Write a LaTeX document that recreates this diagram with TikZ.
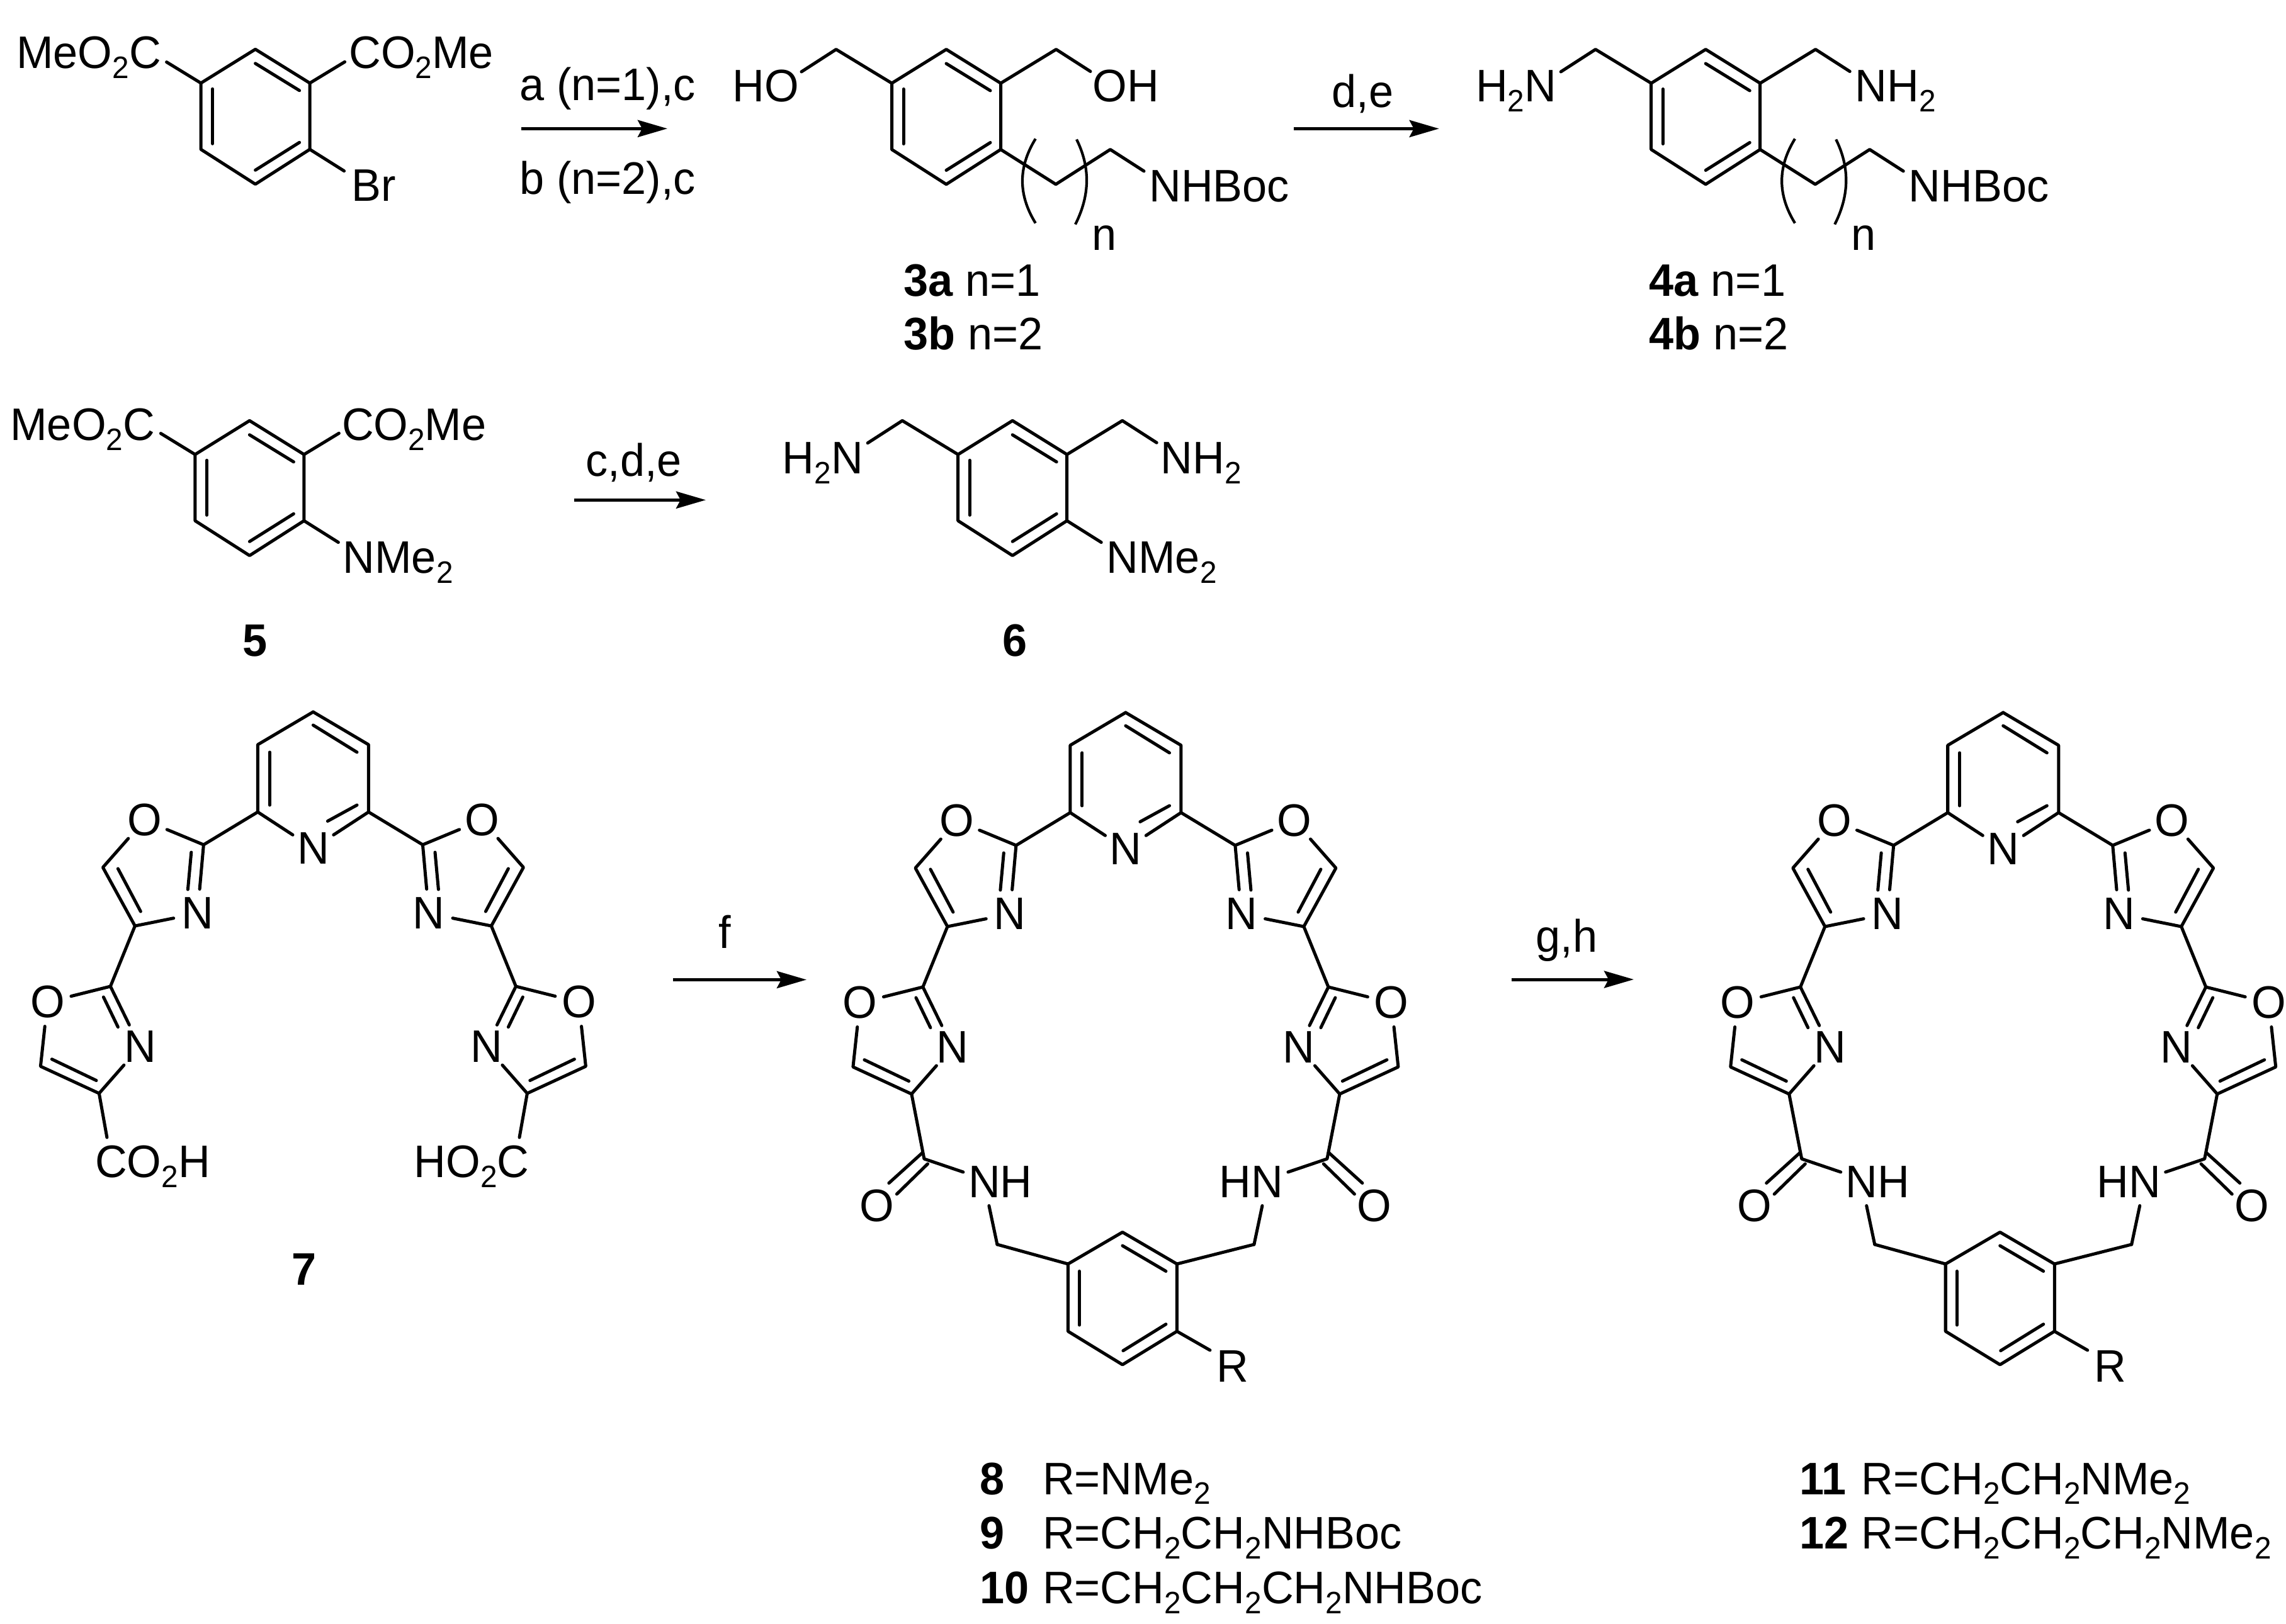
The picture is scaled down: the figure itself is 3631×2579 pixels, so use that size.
\documentclass[tikz,border=0pt]{standalone}
\usepackage{fontspec}
\setmainfont[FakeStretch=0.97]{Liberation Sans}
\usetikzlibrary{arrows.meta,calc}
\newcommand\chem{\fontsize{20.6}{25}\selectfont}
\newcommand\subd[1]{\raisebox{-4.5pt}{\fontsize{14}{16}\selectfont #1}}
\tikzset{
  bond/.style={line width=0.05cm,line cap=round,line join=round},
  rxn/.style={line width=0.05cm,-{Stealth[length=0.47cm,width=0.27cm,inset=0.07cm]}},
  brk/.style={line width=0.042cm},
  lab/.style={anchor=base west,inner sep=0pt,font=\chem,xshift=-0.05cm},
  atom/.style={circle,inner sep=0pt,minimum size=0.76cm,font=\chem},
  pics/benz/.style={code={
    \coordinate (-t) at (0,0);
    \coordinate (-ur) at (86.5,53.7);
    \coordinate (-lr) at (86.5,159);
    \coordinate (-b) at (0,214.3);
    \coordinate (-ll) at (-86.5,159);
    \coordinate (-ul) at (-86.5,53.7);
    \draw[bond] (-t) -- (-ur) -- (-lr) -- (-b) -- (-ll) -- (-ul) -- cycle;
    \draw[bond] (0,22.5) -- (70,65.5);
    \draw[bond] (-68,63) -- (-68,150);
    \draw[bond] (70,148) -- (0,192);
  }},
  pics/esters/.style={code={
    \coordinate (-ea) at (-141,20.3);
    \coordinate (-eb) at (142,20);
    \draw[bond] (-ul) -- (-ea);
    \draw[bond] (-ur) -- (-eb);
  }},
  pics/rsub/.style={code={
    \coordinate (-ec) at (141,193.3);
    \draw[bond] (-lr) -- (-ec);
  }},
  pics/arms/.style={code={
    \coordinate (-cl) at (-175,0);
    \coordinate (-cr) at (174.5,0);
    \coordinate (-el) at (-230,35.5);
    \coordinate (-er) at (229,35);
    \draw[bond] (-ul) -- (-cl) -- (-el);
    \draw[bond] (-ur) -- (-cr) -- (-er);
  }},
  pics/sidechain/.style={code={
    \coordinate (-s1) at (174,214.3);
    \coordinate (-s2) at (260.5,159);
    \coordinate (-s3) at (314,193.4);
    \draw[bond] (-lr) -- (-s1) -- (-s2) -- (-s3);
    \coordinate (-ba) at (141.8,142);
    \coordinate (-bb) at (141.8,276);
    \coordinate (-bc) at (207,143);
    \coordinate (-bd) at (205,278);
    \draw[brk] (-ba) .. controls (114,187) and (114,231) .. (-bb);
    \draw[brk] (-bc) .. controls (228.7,187) and (228.7,231) .. (-bd);
  }},
  pics/bisox/.style={code={
    \coordinate (-t) at (0,0);
    \node[atom] (-n) at (0,216.5) {N};
    \foreach \s/\p in {-1/l,1/r}{
      \coordinate (-u\p) at (\s*88,52);
      \coordinate (-d\p) at (\s*88,159);
      \coordinate (-c2\p) at (\s*174,211);
      \node[atom] (-o\p) at (\s*268,172) {O};
      \coordinate (-c5\p) at (\s*334,247);
      \coordinate (-c4\p) at (\s*283,340);
      \node[atom] (-n\p) at (\s*183.7,320) {N};
      \coordinate (-e2\p) at (\s*322,436);
      \node[atom] (-p\p) at (\s*422,461) {O};
      \coordinate (-e5\p) at (\s*433,563);
      \coordinate (-e4\p) at (\s*340,606);
      \node[atom] (-m\p) at (\s*275,532) {N};
      \draw[bond] (-t) -- (-u\p) -- (-d\p) -- (-n);
      \draw[bond] (-d\p) -- (-c2\p) -- (-o\p) -- (-c5\p) -- (-c4\p) -- (-n\p) -- (-c2\p);
      \draw[bond] (\s*193.6,223) -- (\s*199,282);
      \draw[bond] (\s*310,249) -- (\s*274,317);
      \draw[bond] (-c4\p) -- (-e2\p) -- (-p\p) -- (-e5\p) -- (-e4\p) -- (-m\p) -- (-e2\p);
      \draw[bond] (\s*333,453) -- (\s*310,500.6);
      \draw[bond] (\s*415,551.7) -- (\s*344.4,585.5);
    }
    \draw[bond] (0,21) -- (69.6,64);
    \draw[bond] (-69,64) -- (-69,148);
    \draw[bond] (23,173.5) -- (69.6,148);
  }},
  pics/amide/.style={code={
    \foreach \s/\p in {-1/l,1/r}{
      \coordinate (-k\p) at (\s*320,709);
      \node[atom] (-q\p) at (\s*395,783.5) {O};
      \coordinate (-g\p) at (\s*258,730);
      \coordinate (-h\p) at (\s*217,783.5);
      \coordinate (-j\p) at (\s*204,845);
      \draw[bond] (-e4\p) -- (-k\p) -- (-g\p);
      \draw[bond] (\s*323,699.5) -- (\s*376,747.5);
      \draw[bond] (\s*314.4,717) -- (\s*363.5,765);
      \draw[bond] (-h\p) -- (-j\p);
    }
    \node[lab] (-nh) at (-245.5,770.5) {NH};
    \node[lab] (-hn) at (153,770.5) {HN};
    \coordinate (-rt) at (-5,825.5);
    \coordinate (-rur) at (81.5,876);
    \coordinate (-rlr) at (81.5,983);
    \coordinate (-rb) at (-5,1036);
    \coordinate (-rll) at (-91.5,983);
    \coordinate (-rul) at (-91.5,876);
    \draw[bond] (-rt) -- (-rur) -- (-rlr) -- (-rb) -- (-rll) -- (-rul) -- cycle;
    \draw[bond] (-5,847) -- (64,887.5);
    \draw[bond] (-73.5,887.5) -- (-73.5,973);
    \draw[bond] (-4,1013.8) -- (64,971.7);
    \draw[bond] (-jl) -- (-rul);
    \draw[bond] (-jr) -- (-rur);
    \coordinate (-re) at (134,1013);
    \draw[bond] (-rlr) -- (-re);
    \node[lab] (-r) at (148.6,1063.5) {R};
  }},
}
\begin{document}
\begin{tikzpicture}[x=0.01cm,y=-0.01cm]
\useasboundingbox (0,0) rectangle (3631,2579);
% --- aryl bromide
\pic (a) at (405.6,78.3) {benz};
\pic (a) at (405.6,78.3) {esters};
\pic (a) at (405.6,78.3) {rsub};
\node[lab] (aE1) at (30.6,108.7) {MeO\subd{2}C};
\node[lab] (aE2) at (558.7,108.7) {CO\subd{2}Me};
\node[lab] (aBr) at (562.5,320) {Br};
% --- arrow 1
\node[lab] (t1) at (830,160) {a (n=1),c};
\node[lab] (t2) at (830,309) {b (n=2),c};
\coordinate (r1s) at (828,204.3);
\coordinate (r1e) at (1060,204.3);
\draw[rxn] (r1s) -- (r1e);
% --- 3
\pic (c) at (1503,78.5) {benz};
\pic (c) at (1503,78.5) {arms};
\pic (c) at (1503,78.5) {sidechain};
\node[lab] (cHO) at (1168,161.5) {HO};
\node[lab] (cOH) at (1740,161.5) {OH};
\node[lab] (cB) at (1829.7,320.7) {NHBoc};
\node[lab] (cn) at (1738.5,397) {n};
\node[lab] (c3a) at (1440,470) {\textbf{3a} n=1};
\node[lab] (c3b) at (1440,555.7) {\textbf{3b} n=2};
% --- arrow 2
\node[lab] (t3) at (2120,170.3) {d,e};
\coordinate (r2s) at (2055,204.4);
\coordinate (r2e) at (2285.7,204.4);
\draw[rxn] (r2s) -- (r2e);
% --- 4
\pic (d) at (2709.2,78.5) {benz};
\pic (d) at (2709.2,78.5) {arms};
\pic (d) at (2709.2,78.5) {sidechain};
\node[lab] (dH) at (2348.4,161.5) {H\subd{2}N};
\node[lab] (dN) at (2951,161.5) {NH\subd{2}};
\node[lab] (dB) at (3036,320.7) {NHBoc};
\node[lab] (dn) at (2945,397) {n};
\node[lab] (d4a) at (2624,470) {\textbf{4a} n=1};
\node[lab] (d4b) at (2624,555.7) {\textbf{4b} n=2};
% --- 5
\pic (e) at (396.4,668.3) {benz};
\pic (e) at (396.4,668.3) {esters};
\pic (e) at (396.4,668.3) {rsub};
\node[lab] (eE1) at (20.7,699.3) {MeO\subd{2}C};
\node[lab] (eE2) at (547.3,699.3) {CO\subd{2}Me};
\node[lab] (eN) at (549,910.7) {NMe\subd{2}};
\node[lab] (e5) at (389.7,1042.7) {\textbf{5}};
% --- arrow 3
\node[lab] (t4) at (935,756.7) {c,d,e};
\coordinate (r3s) at (912,794.3);
\coordinate (r3e) at (1121,794.3);
\draw[rxn] (r3s) -- (r3e);
% --- 6
\pic (f) at (1608.2,668.3) {benz};
\pic (f) at (1608.2,668.3) {arms};
\pic (f) at (1608.2,668.3) {rsub};
\node[lab] (fH) at (1247,752.7) {H\subd{2}N};
\node[lab] (fN) at (1848,752.7) {NH\subd{2}};
\node[lab] (fM) at (1762,910.7) {NMe\subd{2}};
\node[lab] (f6) at (1597,1042.7) {\textbf{6}};
% --- 7
\pic (g) at (497.4,1131) {bisox};
\coordinate (gal) at (169.9,1807);
\coordinate (gar) at (825,1807);
\draw[bond] (g-e4l) -- (gal);
\draw[bond] (g-e4r) -- (gar);
\node[lab] (gC) at (155.4,1870.8) {CO\subd{2}H};
\node[lab] (gH) at (662,1870.8) {HO\subd{2}C};
\node[lab] (g7) at (468,2041.7) {\textbf{7}};
% --- arrow f
\node[lab] (t5) at (1145.6,1506) {f};
\coordinate (r4s) at (1069,1556.4);
\coordinate (r4e) at (1281,1556.4);
\draw[rxn] (r4s) -- (r4e);
% --- 8
\pic (h) at (1787.9,1132) {bisox};
\pic (h) at (1787.9,1132) {amide};
% --- arrow g,h
\node[lab] (t6) at (2444,1512) {g,h};
\coordinate (r5s) at (2400.6,1556);
\coordinate (r5e) at (2595,1556);
\draw[rxn] (r5s) -- (r5e);
% --- 11
\pic (i) at (3181.7,1132) {bisox};
\pic (i) at (3181.7,1132) {amide};
% --- legends
\node[lab] (l8) at (1561,2374) {\textbf{8}};
\node[lab] (l8r) at (1660.4,2374) {R=NMe\subd{2}};
\node[lab] (l9) at (1561,2460.7) {\textbf{9}};
\node[lab] (l9r) at (1660.4,2460.7) {R=CH\subd{2}CH\subd{2}NHBoc};
\node[lab] (l10) at (1561,2547.3) {\textbf{10}};
\node[lab] (l10r) at (1660.4,2547.3) {R=CH\subd{2}CH\subd{2}CH\subd{2}NHBoc};
\node[lab] (l11) at (2863,2374) {\textbf{11}};
\node[lab] (l11r) at (2961,2374) {R=CH\subd{2}CH\subd{2}NMe\subd{2}};
\node[lab] (l12) at (2863,2460.7) {\textbf{12}};
\node[lab] (l12r) at (2961,2460.7) {R=CH\subd{2}CH\subd{2}CH\subd{2}NMe\subd{2}};
\end{tikzpicture}
\end{document}
